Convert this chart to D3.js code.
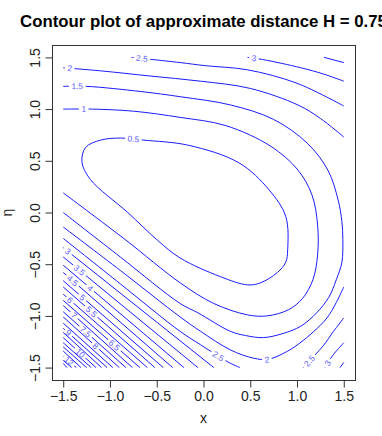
<!DOCTYPE html>
<html>
<head>
<meta charset="utf-8">
<script src="https://cdn.jsdelivr.net/npm/d3@7"></script>
<style>
  body { margin: 0; background: #fff; }
  svg { display: block; }
</style>
</head>
<body>
<div id="viz"></div>
<script>
// contour branches, in data units [x, eta]
const level05 = [[-0.89,0.72],[-0.64,0.70],[-0.16,0.65],[0.38,0.48],[0.70,0.22],[0.88,-0.04],[0.90,-0.36],[0.88,-0.48],[0.79,-0.58],[0.61,-0.68],[0.47,-0.70],[0.18,-0.62],[-0.25,-0.44],[-0.49,-0.27],[-0.81,0.00],[-1.21,0.32],[-1.30,0.49],[-1.26,0.63],[-1.10,0.70]];
const level1 = [[-1.5,1.00],[-1.19,1.00],[-0.75,0.98],[-0.25,0.92],[0.24,0.84],[0.72,0.64],[1.01,0.41],[1.16,0.17],[1.22,-0.12],[1.22,-0.41],[1.17,-0.65],[1.06,-0.83],[0.91,-0.94],[0.68,-1.00],[0.47,-0.99],[0.11,-0.88],[-0.25,-0.68],[-0.84,-0.26],[-1.5,0.19]];
const level15 = [[-1.5,1.22],[-1.25,1.22],[-0.67,1.17],[-0.25,1.12],[0.29,1.04],[0.75,0.90],[1.11,0.67],[1.33,0.41],[1.44,0.12],[1.48,-0.09],[1.49,-0.26],[1.48,-0.48],[1.42,-0.65],[1.34,-0.82],[1.21,-0.97],[1.04,-1.10],[0.85,-1.17],[0.64,-1.21],[0.45,-1.19],[0.29,-1.15],[-0.06,-0.97],[-0.25,-0.88],[-0.89,-0.43],[-1.5,0.00]];
const level2Top = [[-1.5,1.40],[-1.10,1.37],[-0.57,1.32],[-0.03,1.27],[0.50,1.20],[1.01,1.04],[1.25,0.91],[1.5,0.73]];
const level2Low = [[1.5,-0.72],[1.42,-0.87],[1.32,-1.02],[1.18,-1.15],[1.02,-1.27],[0.86,-1.36],[0.69,-1.42],[0.54,-1.41],[0.29,-1.33],[-0.03,-1.15],[-0.25,-1.01],[-0.89,-0.56],[-1.5,-0.14]];
const level25Top = [[-0.77,1.5],[-0.66,1.49],[-0.55,1.48],[-0.25,1.45],[0.02,1.42],[0.47,1.38],[1.00,1.25],[1.5,1.03]];
const level25Low = [[-1.5,-0.25],[-0.89,-0.69],[-0.25,-1.15],[-0.03,-1.28],[0.16,-1.39],[0.27,-1.45],[0.39,-1.5]];
const level25Right = [[1.5,-1.02],[1.39,-1.15],[1.28,-1.29],[1.19,-1.38],[1.07,-1.5]];
const level3Top = [[0.47,1.5],[0.63,1.48],[1.04,1.40],[1.28,1.34],[1.5,1.27]];
const level3Right = [[1.5,-1.26],[1.42,-1.34],[1.36,-1.41],[1.30,-1.5]];
const level35Top = [[1.29,1.5],[1.5,1.45]];
const level35Right = [[1.5,-1.45],[1.46,-1.5]];

// the dense lower-left family: where each level meets the left and bottom edges
const denseLevels = [3,3.5,4,4.5,5,5.5,6,6.5,7,7.5,8,8.5,9,9.5,10,10.5,11,11.5,12,12.5,13];
const denseLeftEta = [-0.34,-0.43,-0.51,-0.58,-0.66,-0.72,-0.79,-0.85,-0.90,-0.96,-1.01,-1.07,-1.12,-1.16,-1.21,-1.26,-1.30,-1.34,-1.39,-1.43,-1.46];
const denseBottomX = [0.11,-0.06,-0.21,-0.33,-0.43,-0.52,-0.60,-0.68,-0.76,-0.83,-0.90,-0.97,-1.03,-1.09,-1.15,-1.20,-1.25,-1.31,-1.36,-1.41,-1.46];

// inline contour labels
const labelText = ["0.5","1","1.5","2","2.5","3","2","2.5","2.5","3","3","3.5","4","4.5","5","5.5","6","6.5","7","7.5","8","9","10","12"];
const labelX = [-0.75,-1.28,-1.35,-1.43,-0.66,0.54,0.68,0.16,1.13,1.33,-1.45,-1.32,-1.20,-1.41,-1.29,-1.18,-1.43,-0.96,-1.38,-1.26,-1.16,-1.45,-1.32,-1.43];
const labelY = [0.71,1.00,1.22,1.40,1.49,1.49,-1.42,-1.39,-1.43,-1.46,-0.38,-0.55,-0.72,-0.67,-0.82,-0.94,-0.85,-1.29,-0.99,-1.15,-1.30,-1.17,-1.36,-1.43];

const xTicks = [-1.5,-1.0,-0.5,0.0,0.5,1.0,1.5];
const yTicks = [-1.5,-1.0,-0.5,0.0,0.5,1.0,1.5];

const W = 382, H = 436;
const pLeft = 52, pRight = 355, pTop = 45, pBottom = 380;
const font = "'Liberation Sans', Arial, Helvetica, sans-serif";

const svg = d3.select("#viz").append("svg")
    .attr("width", W)
    .attr("height", H);

svg.append("rect").attr("width", W).attr("height", H).attr("fill", "#fff");

const x = d3.scaleLinear().domain([-1.62, 1.62]).range([pLeft, pRight]);
const y = d3.scaleLinear().domain([-1.62, 1.62]).range([pBottom, pTop]);

const lineOpen = d3.line().x(d => x(d[0])).y(d => y(d[1])).curve(d3.curveCatmullRom.alpha(0.5));
const lineClosed = d3.line().x(d => x(d[0])).y(d => y(d[1])).curve(d3.curveCatmullRomClosed.alpha(0.5));

const branches = [
    { level: 0.5, pts: level05, closed: true },
    { level: 1, pts: level1 },
    { level: 1.5, pts: level15 },
    { level: 2, pts: level2Top },
    { level: 2, pts: level2Low },
    { level: 2.5, pts: level25Top },
    { level: 2.5, pts: level25Low },
    { level: 2.5, pts: level25Right },
    { level: 3, pts: level3Top },
    { level: 3, pts: level3Right },
    { level: 3.5, pts: level35Top },
    { level: 3.5, pts: level35Right }
];
denseLevels.forEach((lv, i) => {
    branches.push({ level: lv, pts: [[-1.5, denseLeftEta[i]], [denseBottomX[i], -1.5]] });
});

const defs = svg.append("defs");
const gLines = svg.append("g");
const gLabels = svg.append("g");

// draw the lines, then sample them to place the labels on them
branches.forEach(b => {
    b.path = gLines.append("path")
        .attr("d", (b.closed ? lineClosed : lineOpen)(b.pts))
        .attr("fill", "none")
        .attr("stroke", "#1a1aff")
        .attr("stroke-width", 1);
    const node = b.path.node();
    const len = node.getTotalLength();
    b.samples = [];
    for (let s = 0; s <= len; s += 0.5) b.samples.push(node.getPointAtLength(s));
});

// one mask per level, holes cut where its labels sit
const levelKeys = Array.from(new Set(branches.map(b => b.level)));
const masks = {};
levelKeys.forEach((lv, i) => {
    const m = defs.append("mask")
        .attr("id", "m" + i)
        .attr("maskUnits", "userSpaceOnUse")
        .attr("x", 0).attr("y", 0).attr("width", W).attr("height", H);
    m.append("rect").attr("width", W).attr("height", H).attr("fill", "#fff");
    masks[lv] = { sel: m, id: "m" + i };
});

labelText.forEach((t, i) => {
    const lv = +t;
    const px = x(labelX[i]), py = y(labelY[i]);
    let best = null;
    branches.filter(b => b.level === lv).forEach(b => {
        b.samples.forEach((p, k) => {
            const d = (p.x - px) ** 2 + (p.y - py) ** 2;
            if (!best || d < best.d) best = { d, b, k };
        });
    });
    if (!best) return;
    const sm = best.b.samples;
    const p = sm[best.k];
    const a = sm[Math.max(0, best.k - 6)], c = sm[Math.min(sm.length - 1, best.k + 6)];
    let ang = Math.atan2(c.y - a.y, c.x - a.x) * 180 / Math.PI;
    if (ang > 90) ang -= 180;
    if (ang < -90) ang += 180;

    const txt = gLabels.append("text")
        .attr("transform", `translate(${p.x},${p.y}) rotate(${ang})`)
        .attr("text-anchor", "middle")
        .attr("dy", "0.35em")
        .attr("font-family", font)
        .attr("font-size", 8.4)
        .attr("fill", "#5a5aff")
        .text(t);
    const tw = txt.node().getComputedTextLength();

    masks[lv].sel.append("rect")
        .attr("x", -tw / 2 - 2.5)
        .attr("y", -4)
        .attr("width", tw + 5)
        .attr("height", 8)
        .attr("fill", "#000")
        .attr("transform", `translate(${p.x},${p.y}) rotate(${ang})`);
});

branches.forEach(b => b.path.attr("mask", `url(#${masks[b.level].id})`));

// frame
svg.append("rect")
    .attr("x", pLeft + 0.5)
    .attr("y", pTop + 0.5)
    .attr("width", pRight - pLeft)
    .attr("height", pBottom - pTop)
    .attr("fill", "none")
    .attr("stroke", "#333")
    .attr("stroke-width", 1);

// axes
const fmt = d3.format(".1f");
const xAxis = svg.append("g")
    .attr("transform", `translate(0,${pBottom + 0.5})`)
    .call(d3.axisBottom(x).tickValues(xTicks).tickSize(7).tickPadding(3.5).tickFormat(fmt));
xAxis.select(".domain").remove();
xAxis.selectAll("line").attr("stroke", "#333");
xAxis.selectAll("text")
    .attr("font-family", font)
    .attr("font-size", 14)
    .attr("fill", "#222");

const yAxis = svg.append("g")
    .attr("transform", `translate(${pLeft + 0.5},0)`)
    .call(d3.axisLeft(y).tickValues(yTicks).tickSize(7).tickFormat(fmt));
yAxis.select(".domain").remove();
yAxis.selectAll("line").attr("stroke", "#333");
yAxis.selectAll("text")
    .attr("x", null)
    .attr("dy", null)
    .attr("text-anchor", "middle")
    .attr("transform", "translate(-12.5,0) rotate(-90)")
    .attr("font-family", font)
    .attr("font-size", 14)
    .attr("fill", "#222");

// titles
svg.append("text")
    .attr("x", (pLeft + pRight) / 2)
    .attr("y", 27)
    .attr("text-anchor", "middle")
    .attr("font-family", font)
    .attr("font-weight", "bold")
    .attr("font-size", 16.8)
    .attr("fill", "#000")
    .text("Contour plot of approximate distance H = 0.75");

svg.append("text")
    .attr("x", (pLeft + pRight) / 2)
    .attr("y", 423)
    .attr("text-anchor", "middle")
    .attr("font-family", font)
    .attr("font-size", 14)
    .attr("fill", "#222")
    .text("x");

svg.append("text")
    .attr("transform", `translate(12,${(pTop + pBottom) / 2}) rotate(-90)`)
    .attr("text-anchor", "middle")
    .attr("font-family", font)
    .attr("font-size", 14)
    .attr("fill", "#222")
    .text("η");
</script>
</body>
</html>
